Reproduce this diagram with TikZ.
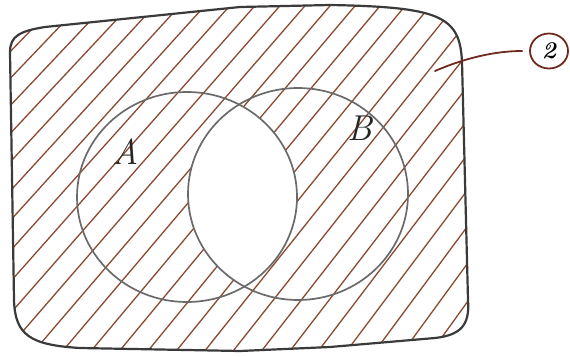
\documentclass[tikz,border=0pt]{standalone}
\usetikzlibrary{shapes.geometric}
\definecolor{hatch}{HTML}{8A4A30}
\definecolor{lead}{HTML}{6E2A1E}
\definecolor{pen}{HTML}{3A3A3A}
\definecolor{setpen}{HTML}{6A6A6A}
\tikzset{
  hatchline/.style={draw=hatch, line width=1.3pt, line cap=round},
  setline/.style={draw=setpen, line width=1.7pt},
  boxline/.style={draw=pen, line width=2.2pt, line join=round},
  setlabel/.style={font=\fontsize{36}{36}\selectfont\itshape, text=black!85},
}
\begin{document}
\begin{tikzpicture}[x=1pt,y=-1pt]
\useasboundingbox (0,0) rectangle (570,356);
\def\boxpath{(10,52) .. controls (10,36) and (20,31) .. (45,27)
  -- (240,7) -- (330,5) .. controls (440,7) and (460,16) .. (462,62)
  -- (468,300) .. controls (470,326) and (460,335) .. (435,338)
  -- (330,347) -- (240,351) -- (80,348) .. controls (30,345) and (15,335) .. (14,300) -- cycle}
% hatching in the box
\begin{scope}
  \clip \boxpath;
  \foreach \i in {-3,...,24}
    \draw[hatchline] ({-230+28.5*\i},360) -- ({110+25*\i},0);
\end{scope}
% blank intersection
\begin{scope}
  \clip (187,197) ellipse [x radius=110, y radius=105];
  \fill[white] (298,194) ellipse [x radius=110, y radius=106];
\end{scope}
% outlines
\draw[boxline] \boxpath;
\draw[setline] (187,197) ellipse [x radius=110, y radius=105];
\draw[setline] (298,194) ellipse [x radius=110, y radius=106];
% labels
\node[setlabel] (la) at (126,152) {A};
\node[setlabel] (lb) at (360,128) {B};
\node[draw=lead, line width=1.8pt, ellipse, inner sep=0pt, minimum width=38pt, minimum height=35pt,
      font=\fontsize{24}{24}\selectfont\bfseries\itshape] (two) at (549,51) {2};
\coordinate (leadstart) at (435,71);
\draw[draw=lead, line width=1.8pt, line cap=round, shorten >=7pt] (leadstart) .. controls (465,58) and (495,51) .. (two.west);
\end{tikzpicture}
\end{document}
